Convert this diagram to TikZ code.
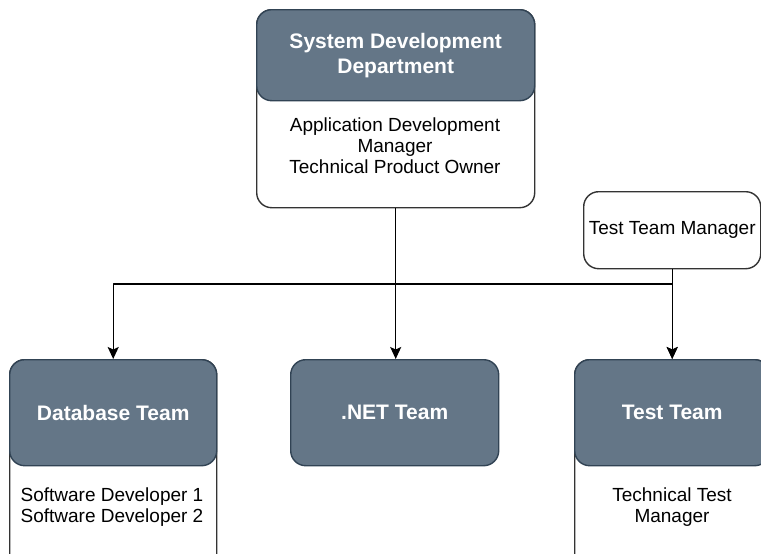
\documentclass[tikz,border=0pt]{standalone}
\usepackage{fontspec}
\setmainfont{Liberation Sans}
\usetikzlibrary{arrows.meta}
\definecolor{slate}{HTML}{647687}
\definecolor{slateline}{HTML}{314354}
\begin{document}
\begin{tikzpicture}[x=1pt,y=-1pt,>={Stealth[length=12pt,width=11pt,inset=2.5pt]},line join=round,line width=1.4pt]
	\tikzset{head/.style={draw=slateline,fill=slate,rounded corners=15pt,anchor=north west,inner sep=0pt,
			text=white,align=center,font=\fontsize{21}{25}\selectfont\bfseries},
		body/.style={draw=black!80,fill=white,rounded corners=15pt,anchor=north west,inner sep=0pt},
		info/.style={align=center,text=black,font=\fontsize{19}{21}\selectfont},
		link/.style={->,black}}
	\useasboundingbox (0,0) rectangle (761,554);
	\clip (0,0) rectangle (761,554);
	\node[body,minimum width=278pt,minimum height=198pt] (sysbody) at (256,9) {};
	\node[head,minimum width=278pt,minimum height=91pt] (sysdept) at (256,9) {System Development\\Department};
	\node[info] (sysinfo) at (395,146) {Application Development\\Manager\\Technical Product Owner};
	\node[body,info,minimum width=177pt,minimum height=77pt] (ttmgr) at (583,191) {Test Team Manager};
	\node[body,minimum width=207pt,minimum height=230pt] (dbbody) at (9,359) {};
	\node[head,minimum width=207pt,minimum height=106pt] (dbteam) at (9,359) {Database Team};
	\node[info] (dbinfo) at (112,507) {Software Developer 1\\Software Developer 2};
	\node[head,minimum width=208pt,minimum height=106pt] (netteam) at (290,359) {.NET Team};
	\node[body,minimum width=195pt,minimum height=230pt] (testbody) at (574,359) {};
	\node[head,minimum width=195pt,minimum height=106pt] (testteam) at (574,359) {Test Team};
	\node[info] (testinfo) at (672,507) {Technical Test\\Manager};
	\coordinate (bus) at (0,284);
	\draw[link] (sysbody.south) -- (sysbody.south |- netteam.north);
	\draw[link] (sysbody.south |- bus) -| (dbteam.north);
	\draw[link] (sysbody.south |- bus) -| (testteam.north);
	\draw[link] (ttmgr.south) -- (testteam.north);
\end{tikzpicture}
\end{document}
